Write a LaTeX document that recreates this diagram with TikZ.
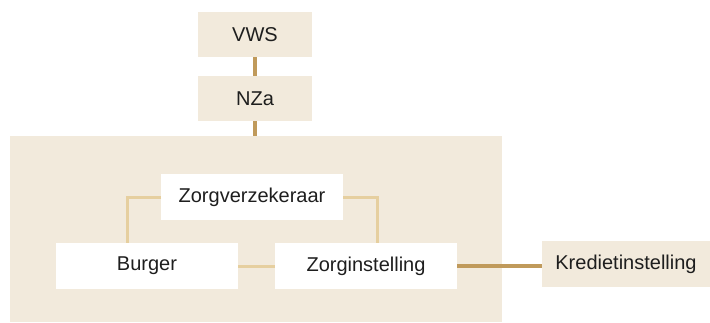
\documentclass[tikz,border=0pt]{standalone}
\usepackage{fontspec}
\setmainfont{Liberation Sans}
\definecolor{beige}{HTML}{F2EADC}
\definecolor{darkgold}{HTML}{C09A5B}
\definecolor{lightgold}{HTML}{E6CF9F}
\definecolor{txt}{HTML}{1E1E1E}
\begin{document}
\begin{tikzpicture}[x=1pt,y=-1pt,
  box/.style={rectangle, inner sep=0pt, outer sep=0pt, text=txt,
    font=\fontsize{20}{24}\selectfont},
  beigebox/.style={box, fill=beige},
  whitebox/.style={box, fill=white},
  darkline/.style={draw=darkgold, line width=3.2pt},
  lightline/.style={draw=lightgold, line width=3pt}]
\useasboundingbox (0,0) rectangle (710,322);
\node[beigebox, minimum width=492pt, minimum height=186pt] (bg) at (256,229) {};
\node[beigebox, minimum width=114pt, minimum height=45pt] (vws) at (255,34.5) {VWS};
\node[beigebox, minimum width=114pt, minimum height=45pt] (nza) at (255,98.5) {NZa};
\node[whitebox, minimum width=182pt, minimum height=46pt] (zv) at (252,197) {Zorgverzekeraar};
\node[whitebox, minimum width=182pt, minimum height=46pt] (bu) at (147,266) {Burger};
\node[whitebox, minimum width=182pt, minimum height=46pt] (zi) at (366,266) {Zorginstelling};
\node[beigebox, minimum width=168pt, minimum height=46pt] (kr) at (626,264) {Kredietinstelling};
\draw[darkline] (vws) -- (nza);
\draw[darkline] (nza.south) -- (nza.south |- bg.north);
\draw[lightline] (zv.west) -| ([xshift=-20pt]bu.north);
\draw[lightline] (zv.east) -| ([xshift=11pt]zi.north);
\draw[lightline] (bu) -- (zi);
\draw[darkline] (zi.east) -- (zi.east -| kr.west);
\end{tikzpicture}
\end{document}
